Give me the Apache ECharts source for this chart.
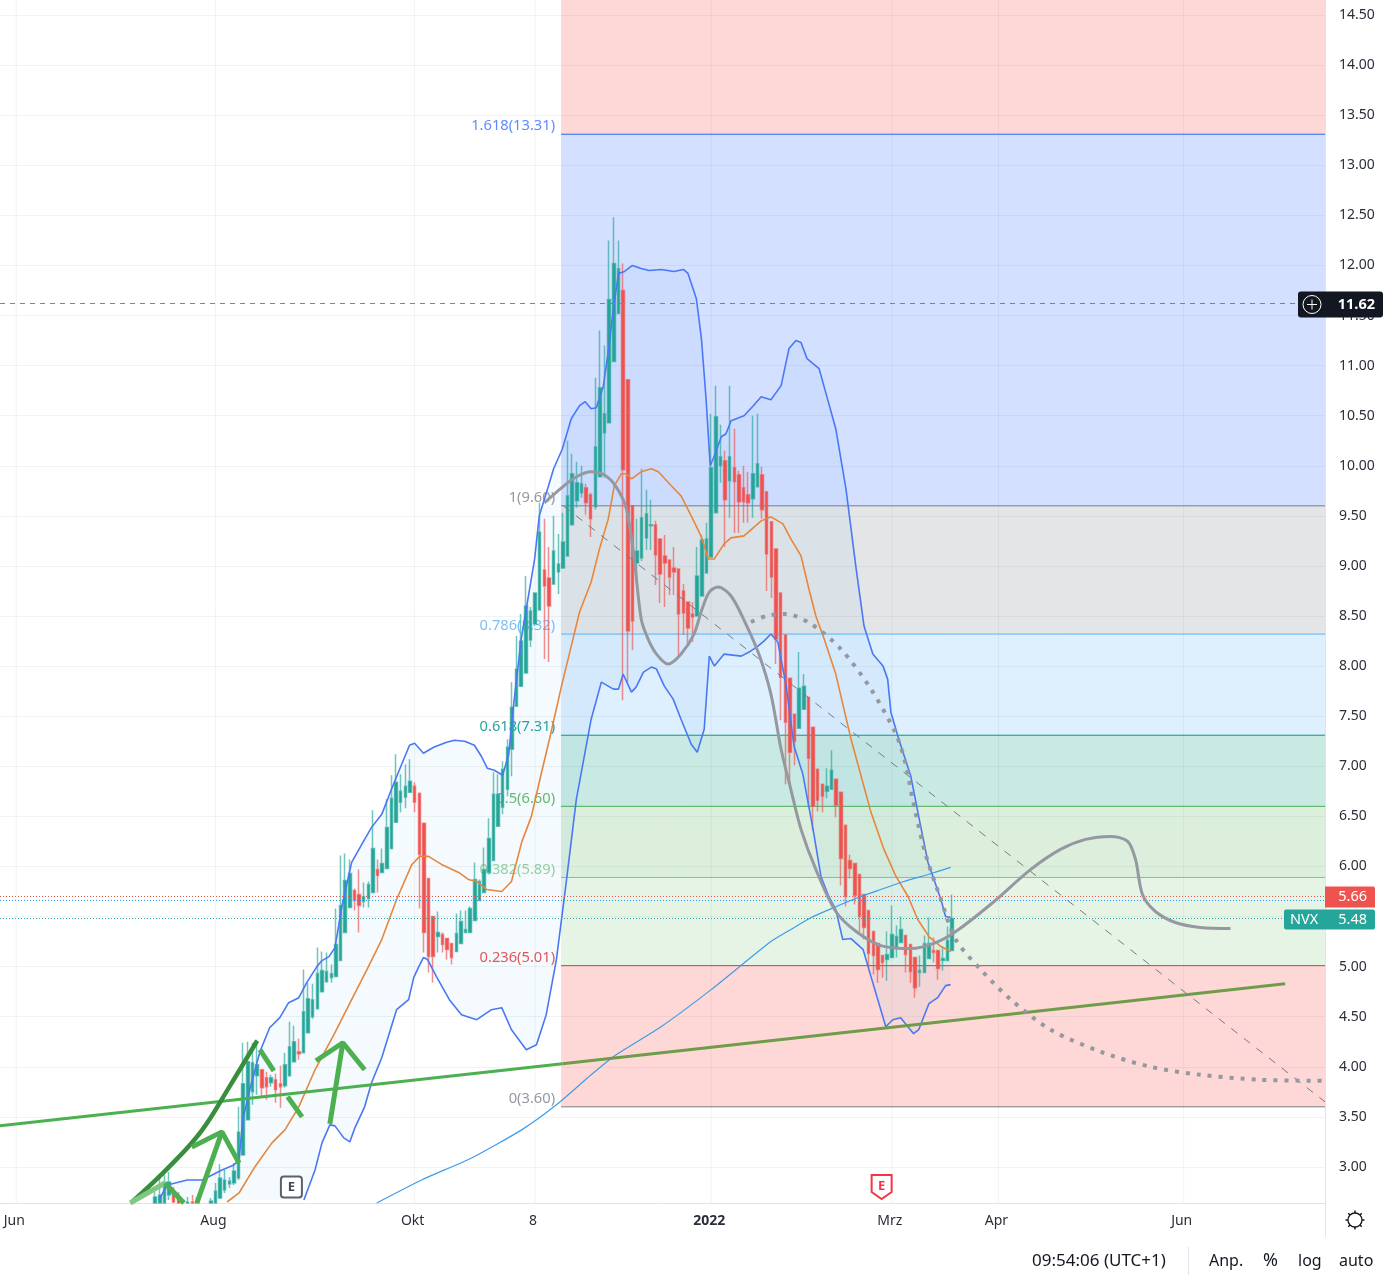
<!DOCTYPE html>
<html>
<head>
<meta charset="utf-8">
<title>NVX</title>
<script src="https://cdn.jsdelivr.net/npm/echarts@6/dist/echarts.min.js"></script>
<style>
  html, body { margin: 0; padding: 0; background: #fff; }
  #chart { width: 1387px; height: 1285px; }
</style>
</head>
<body>
<div id="chart"></div>
<script>
const font = '"Noto Sans", sans-serif';

const slotCount = 286;
const firstBar = 33;
const monthTicks = {3: 'Jun', 46: 'Aug', 89: 'Okt', 115: '8', 153: '2022', 192: 'Mrz', 215: 'Apr', 255: 'Jun'};
const priceTicks = ['3.00','3.50','4.00','4.50','5.00','5.50','6.00','6.50','7.00','7.50','8.00','8.50','9.00','9.50','10.00','10.50','11.00','11.50','12.00','12.50','13.00','13.50','14.00','14.50'];

// open, close, low, high ('-' = bar lies under the visible range)
const ohlc = [
  [2.64,2.70,2.64,2.75],[2.64,2.72,2.64,2.90],[2.64,2.84,2.64,2.92],[2.72,2.85,2.67,2.95],[2.75,2.65,2.64,2.80],
  [2.70,2.64,2.64,2.75],'-',[2.64,2.65,2.64,2.70],[2.65,2.64,2.64,2.72],[2.65,2.64,2.64,2.70],
  '-','-',[2.64,2.66,2.64,2.69],[2.64,2.76,2.64,2.84],[2.69,2.89,2.68,3.03],
  [2.77,2.87,2.74,2.97],[2.83,2.86,2.79,2.90],[2.84,2.96,2.82,3.04],[2.89,3.35,2.87,3.60],[3.12,3.83,3.12,4.24],
  [3.47,4.05,3.47,4.25],[3.75,4.04,3.62,4.24],[3.91,4.02,3.72,4.27],[3.97,3.79,3.70,3.97],[3.89,3.80,3.67,3.95],
  [3.84,3.89,3.80,3.92],[3.87,3.77,3.64,3.93],[3.83,3.80,3.59,4.01],[3.81,4.02,3.79,4.14],[3.91,4.20,3.90,4.45],
  [4.05,4.25,4.05,4.41],[4.15,4.13,4.07,4.28],[4.14,4.55,4.14,4.97],[4.34,4.68,4.34,4.84],[4.50,4.67,4.48,4.83],
  [4.58,4.93,4.58,5.19],[4.75,4.96,4.75,5.15],[4.85,4.95,4.84,5.14],[4.89,4.93,4.84,5.02],[4.90,5.22,4.90,5.58],
  [5.06,5.61,5.06,6.11],[5.34,5.86,5.34,6.13],[5.59,5.93,5.59,6.07],[5.76,5.66,5.56,5.78],[5.72,5.61,5.34,5.97],
  [5.65,5.70,5.59,5.84],[5.68,5.82,5.59,5.85],[5.74,6.18,5.74,6.56],[5.97,5.91,5.74,6.07],[5.94,6.03,5.94,6.18],
  [5.98,6.39,5.98,6.67],[6.18,6.68,6.17,6.91],[6.44,6.84,6.44,7.12],[6.64,6.75,6.54,6.92],[6.69,6.80,6.58,7.02],
  [6.74,6.85,6.74,7.07],[6.80,6.64,6.54,6.84],[6.73,6.12,5.58,6.73],[6.43,5.34,5.14,6.43],[5.88,5.10,4.94,5.88],
  [5.50,5.10,4.84,5.50],[5.30,5.34,5.14,5.55],[5.32,5.22,5.14,5.34],[5.28,5.17,5.07,5.28],[5.23,5.09,5.02,5.23],
  [5.15,5.33,5.15,5.53],[5.23,5.45,5.23,5.56],[5.34,5.37,5.34,5.56],[5.34,5.58,5.34,5.60],[5.46,5.87,5.46,6.04],
  [5.66,5.85,5.66,5.87],[5.74,5.97,5.74,6.19],[5.94,6.28,5.92,6.48],[6.06,6.72,6.06,6.94],[6.40,6.72,6.40,6.92],
  [6.59,6.97,6.52,7.05],[6.77,7.19,6.70,7.27],[7.17,7.59,6.90,7.84],[7.60,7.97,7.60,8.30],[7.80,8.25,7.80,8.52],
  [7.93,8.60,7.93,8.90],[8.26,8.55,8.19,8.59],[8.42,8.73,8.40,8.73],[8.56,9.34,8.56,9.63],[8.96,8.80,8.07,9.47],
  [8.88,8.60,8.04,9.19],[8.82,9.15,8.81,9.50],[8.94,9.02,8.72,9.32],[8.98,9.24,8.97,9.53],[9.10,9.70,9.10,10.25],
  [9.41,9.92,9.40,10.12],[9.65,9.83,9.58,10.04],[9.73,9.82,9.68,10.00],[9.78,9.63,9.51,9.82],[9.71,9.47,9.29,9.73],
  [9.59,10.19,9.56,10.88],[9.89,10.78,9.89,11.35],[10.33,10.52,9.88,11.20],[10.43,11.66,10.43,12.25],[11.04,12.02,11.04,12.48],
  [11.52,11.97,11.52,12.25],[11.75,9.96,7.66,12.02],[10.86,8.35,7.84,10.86],[9.60,8.45,8.16,9.60],[9.03,9.15,8.83,9.47],
  [9.08,9.48,9.05,9.97],[9.28,9.52,9.16,9.76],[9.40,9.41,9.16,9.66],[9.41,9.11,8.81,9.45],[9.27,8.92,8.63,9.27],
  [9.10,9.03,8.59,9.31],[9.06,8.89,8.71,9.06],[8.98,8.94,8.71,9.19],[8.97,8.52,8.08,8.97],[8.75,8.53,8.31,8.82],
  [8.64,8.38,8.21,8.64],[8.52,8.49,8.24,8.64],[8.50,8.90,8.50,9.19],[8.70,9.26,8.70,9.31],[8.93,9.27,8.93,9.43],
  [9.09,9.98,9.09,10.52],[9.53,10.49,9.53,10.80],[10.00,10.09,9.83,10.41],[10.05,9.66,9.19,10.15],[9.85,10.09,9.48,10.80],
  [9.98,9.84,9.33,10.37],[9.91,9.64,9.33,9.95],[9.78,9.64,9.43,10.00],[9.71,9.63,9.43,9.94],[9.67,9.92,9.48,10.50],
  [9.79,10.02,9.79,10.52],[9.91,9.56,9.47,9.99],[9.74,9.12,8.75,9.74],[9.44,8.89,8.68,9.44],[9.17,8.27,8.02,9.17],
  [8.73,7.89,7.46,8.73],[8.31,7.44,6.82,8.31],[7.88,7.14,6.81,7.88],[7.52,7.25,7.01,7.52],[7.38,7.78,7.38,8.14],
  [7.57,7.80,7.57,7.92],[7.69,7.08,6.59,7.69],[7.39,6.60,6.36,7.39],[6.97,6.66,6.55,6.97],[6.82,6.70,6.54,6.82],
  [6.75,6.80,6.68,6.98],[6.77,6.96,6.77,7.16],[6.87,6.61,6.49,6.87],[6.74,6.08,5.81,6.74],[6.41,5.70,5.60,6.41],
  [6.06,5.98,5.88,6.12],[6.03,5.71,5.62,6.03],[5.92,5.50,5.34,5.92],[5.72,5.39,5.27,5.72],[5.56,5.13,4.99,5.56],
  [5.35,5.11,4.92,5.35],[5.23,4.97,4.84,5.23],[5.11,5.04,4.89,5.11],[5.07,5.12,4.86,5.35],[5.09,5.32,5.09,5.61],
  [5.19,5.30,5.09,5.41],[5.24,5.37,5.24,5.50],[5.31,5.12,4.94,5.31],[5.22,4.95,4.84,5.22],[5.09,4.79,4.69,5.09],
  [4.94,4.96,4.80,5.11],[4.94,5.23,4.94,5.31],[5.08,5.23,5.08,5.49],[5.16,5.14,5.04,5.29],[5.16,4.98,4.87,5.16],
  [5.06,5.08,4.96,5.20],[5.06,5.26,5.06,5.40],[5.16,5.48,5.16,5.72]
];

// bar number, price
const upperBand = [[33.8,2.67],[35.6,2.82],[39.9,2.87],[43.1,2.87],[45.3,2.92],[47.4,2.97],[50,3.02],[51.1,3.07],[51.9,3.47],[53.4,3.77],[55.6,4.15],[57.7,4.39],[59.9,4.49],[61.8,4.64],[64,4.69],[65.7,4.84],[67.9,5.00],[69,5.06],[70.5,5.10],[71.8,5.19],[73.3,5.60],[75.4,6.04],[78.2,6.27],[79.7,6.39],[81.9,6.52],[84,6.77],[86.2,7.02],[87.9,7.21],[89,7.23],[90.9,7.13],[93.1,7.19],[95.9,7.24],[97.6,7.26],[99.8,7.25],[101.9,7.21],[103.4,7.10],[104.7,6.98],[106.2,6.96],[108,6.91],[109.3,7.12],[110.5,7.67],[112,8.27],[114.9,9.07],[115.9,9.50],[117.9,9.80],[119,9.97],[120.9,10.17],[122.8,10.47],[124.6,10.60],[125.8,10.64],[127.1,10.57],[128.2,10.58],[129.7,10.79],[130.8,11.14],[131.9,11.57],[133,11.92],[134.3,11.94],[136,12.00],[137.9,11.97],[139.6,11.95],[142.2,11.96],[145,11.94],[147,11.96],[148,11.92],[149.8,11.67],[150.9,11.27],[151.9,10.67],[152.8,10.00],[153.7,10.10],[155.2,10.29],[156.2,10.32],[157.3,10.45],[160.1,10.50],[162.1,10.60],[163.8,10.69],[165.9,10.66],[168.1,10.80],[169.8,11.17],[171.3,11.25],[172.4,11.23],[173.7,11.07],[176.3,10.97],[177.8,10.72],[179.9,10.37],[182.1,9.77],[184.3,8.97],[186,8.40],[187.9,8.12],[190.1,8.00],[191.1,7.87],[191.8,7.54],[193.5,7.27],[196.1,6.90],[197.8,6.50],[199.8,6.04],[201.1,5.87],[202.6,5.67],[203.6,5.50],[204.7,5.49]];
const lowerBand = [[65.1,2.67],[67.5,2.97],[69,3.24],[70.7,3.42],[71.8,3.41],[73.7,3.29],[75,3.25],[76.1,3.39],[78.2,3.60],[79.7,3.84],[81.9,4.09],[85.1,4.57],[87.7,4.67],[88.8,4.89],[89.9,5.00],[90.9,5.09],[91.8,5.07],[93.7,4.90],[96.5,4.67],[99.1,4.52],[102.4,4.47],[105.6,4.57],[107.8,4.59],[109.9,4.37],[113.1,4.17],[115.3,4.22],[117.4,4.52],[119.6,5.07],[121.8,5.87],[123.9,6.67],[127.1,7.47],[129.3,7.84],[131.9,7.77],[133,7.77],[134,7.92],[135.8,7.74],[136.8,7.79],[138.4,7.94],[140.1,7.99],[141.2,7.97],[142.9,7.80],[144.8,7.67],[146.5,7.47],[148.7,7.22],[150,7.14],[151.5,7.37],[152.6,8.10],[153.7,8.00],[155.8,8.12],[159.5,8.10],[161.2,8.14],[163.1,8.20],[164.4,8.25],[165.9,8.32],[167.4,8.24],[169.2,7.80],[170.9,7.20],[172.8,6.92],[175,6.37],[176.7,5.90],[178.4,5.70],[179.9,5.57],[181.4,5.27],[183.2,5.28],[185.8,5.17],[187.5,4.90],[190.7,4.40],[192.2,4.47],[193.9,4.49],[196.7,4.33],[197.8,4.37],[200,4.63],[201.9,4.69],[203.6,4.81],[204.7,4.82]];
const basisBand = [[48.5,2.65],[51.1,2.74],[54.5,3.00],[58.2,3.24],[61,3.37],[64,3.60],[67.5,3.97],[71.8,4.34],[75.4,4.67],[78.7,4.97],[81.9,5.27],[85.1,5.67],[88.4,6.02],[90.1,6.10],[92,6.10],[94.8,6.02],[98.5,5.94],[100.6,5.87],[102.4,5.85],[104.5,5.77],[107.8,5.75],[109.9,5.85],[112.1,6.24],[114.2,6.50],[116.4,6.94],[118.1,7.27],[120.7,7.80],[122.8,8.20],[124.6,8.54],[127.1,8.84],[128.9,9.17],[130.8,9.47],[132.1,9.80],[133.6,9.92],[134.7,9.92],[135.8,9.87],[137.9,9.94],[140.1,9.97],[141.6,9.94],[144.4,9.80],[146.5,9.70],[148.7,9.50],[150.9,9.29],[152.4,9.07],[153.7,9.07],[155.8,9.22],[157.3,9.28],[160.1,9.30],[163.8,9.45],[165.9,9.49],[168.5,9.42],[170.2,9.27],[172.4,9.10],[174.1,8.77],[175.6,8.50],[177.4,8.27],[179.9,7.92],[183.2,7.27],[187.5,6.54],[190.3,6.17],[192.9,5.90],[195.5,5.70],[197.6,5.47],[200,5.30],[202.6,5.20],[204.7,5.15]];
const ma200 = [[80.8,2.64],[90.5,2.87],[101.3,3.09],[112.1,3.37],[119.6,3.62],[127.1,3.92],[132.5,4.12],[142.2,4.40],[153,4.77],[165.9,5.25],[170.2,5.37],[174.6,5.49],[179.5,5.59],[184.7,5.69],[189.6,5.77],[194.6,5.85],[199.8,5.92],[204.7,5.99]];

const fibLevels = [1.618, 1, 0.786, 0.618, 0.5, 0.382, 0.236, 0];
const fibPrices = [13.31, 9.60, 8.32, 7.31, 6.60, 5.89, 5.01, 3.60];
const fibStartBar = 120.6;

// hand drawn lines
const cupCurve = [[117,9.63],[120.7,9.78],[123.9,9.89],[127.1,9.94],[129.9,9.91],[132.5,9.79],[134.7,9.57],[136.4,9.07],[137.9,8.47],[139.4,8.27],[141.2,8.12],[143.7,8.02],[146.5,8.12],[149.3,8.32],[150.9,8.55],[152.6,8.74],[154.5,8.79],[157.3,8.70],[160.5,8.42],[163.3,8.12],[165.9,7.72],[168.1,7.17],[170.2,6.77],[172.4,6.37],[175.6,5.97],[179.9,5.55],[184.3,5.35],[189.6,5.21],[196.1,5.18],[201.5,5.24],[205.8,5.35],[213.3,5.62],[222,5.97],[228.4,6.17],[233.8,6.27],[239.2,6.30],[242.9,6.25],[244.6,6.07],[246.1,5.72],[248.9,5.55],[253.2,5.44],[258.6,5.39],[265.1,5.38]];
const dottedCurve = [[161.6,8.44],[164.9,8.50],[169.2,8.52],[174.6,8.42],[181,8.17],[187.5,7.77],[192.9,7.32],[195,7.02],[196.5,6.67],[199.3,6.12],[202.6,5.67],[205.8,5.27],[211.2,4.97],[217.7,4.67],[226.3,4.37],[237.1,4.15],[247.8,4.00],[258.6,3.92],[271.5,3.87],[285.5,3.86]];
const dashedDiagonal = [[121.1,9.60],[285.5,3.65]];
const trendLeft = [[-0.5,3.41],[120.9,4.03]];
const trendRight = [[120.9,4.03],[276.9,4.83]];
const darkCurve = [[28,2.65],[36,3.00],[43,3.36],[49,3.80],[55,4.26]];
const paleStroke = [[27.6,2.64],[35.1,2.84]];
const greenStrokes = [
  [[35.1,2.84],[39.2,2.64]],
  [[42,2.64],[47.4,3.35]],
  [[40.9,3.20],[47.4,3.35],[51.1,3.04]],
  [[70.7,3.43],[73.5,4.24]],
  [[67.7,4.06],[73.5,4.24],[78.2,3.97]],
  [[55.6,4.17],[58.6,3.96]],
  [[61.6,3.70],[64.7,3.50]]
];

const crossPrice = 11.62;
const lastClose = 5.48;
const prevPrice = 5.66;
const redLevel = 5.70;
const blueLevel = 5.66;
const earnings = [[62.4, 2.80], [189.8, 2.80]];

const categories = [];
for (let i = 0; i < slotCount; i++) categories.push(monthTicks[i] || '');

const fibColors = ['#2962ff', '#787b86', '#64b5f6', '#089981', '#4caf50', '#81c784', '#f23645', '#787b86'];
const fibFills = ['rgba(41,98,255,.2)', 'rgba(120,123,134,.2)', 'rgba(33,150,243,.15)', 'rgba(8,153,129,.22)', 'rgba(76,175,80,.2)', 'rgba(129,199,132,.2)', 'rgba(244,60,50,.2)'];
const fibLabelColors = ['#5f8bff', '#9598a1', '#7cc0f7', '#26a69a', '#66bb6a', '#9ad29d', '#ef5350', '#9598a1'];

function lineSeries(name, data, color, width, extra) {
  return Object.assign({
    name: name,
    type: 'line',
    xAxisIndex: 1,
    data: data,
    showSymbol: false,
    symbol: 'none',
    silent: true,
    z: 5,
    lineStyle: { color: color, width: width }
  }, extra || {});
}

// zones and labels of the fib tool
function renderFib(params, api) {
  const i = params.dataIndex;
  const price = api.value(0);
  const y = api.coord([fibStartBar, price])[1];
  const left = api.coord([fibStartBar, price])[0];
  const right = api.coord([285.5, price])[0];
  const top = i === 0 ? api.coord([fibStartBar, 14.65])[1] : api.coord([fibStartBar, fibPrices[i - 1]])[1];
  const children = [];
  // the zone above this level
  const fill = i === 0 ? 'rgba(244,60,50,.2)' : fibFills[i - 1];
  children.push({ type: 'rect', shape: { x: left, y: top, width: right - left, height: y - top }, style: { fill: fill } });
  children.push({ type: 'line', shape: { x1: left, y1: y, x2: right, y2: y }, style: { stroke: fibColors[i], lineWidth: 1 } });
  children.push({
    type: 'text',
    x: left - 6,
    y: y - 8,
    style: { text: fibLevels[i] + '(' + fibPrices[i].toFixed(2) + ')', fill: fibLabelColors[i], font: '14.7px ' + font, align: 'right', verticalAlign: 'middle' }
  });
  return { type: 'group', children: children };
}

function renderBandFill(params, api) {
  const pts = upperBand.concat(lowerBand.slice().reverse()).map(function (p) { return api.coord(p); });
  return { type: 'polygon', shape: { points: pts }, style: { fill: 'rgba(33,150,243,.05)' } };
}

// vertical grid lines at the month labels
function renderMonthLine(params, api) {
  const top = api.coord([api.value(0), 14.65]);
  const bottom = api.coord([api.value(0), 2.64]);
  return { type: 'line', shape: { x1: top[0], y1: top[1], x2: bottom[0], y2: bottom[1] }, style: { stroke: 'rgba(42,46,57,.06)', lineWidth: 1 } };
}

function renderEarnings(params, api) {
  const c = api.coord([api.value(0), api.value(1)]);
  const past = params.dataIndex === 0;
  const color = past ? '#5d606b' : '#f23645';
  const shape = past
    ? { type: 'rect', shape: { x: c[0] - 10.5, y: c[1] - 10.5, width: 21, height: 21, r: 3 } }
    : { type: 'polygon', shape: { points: [[c[0] - 10, c[1] - 12], [c[0] + 10, c[1] - 12], [c[0] + 10, c[1] + 5], [c[0], c[1] + 12], [c[0] - 10, c[1] + 5]] } };
  shape.style = { fill: '#fff', stroke: color, lineWidth: 2 };
  return {
    type: 'group',
    children: [shape, { type: 'text', x: c[0], y: c[1] + (past ? 0 : -1), style: { text: 'E', fill: past ? '#434651' : '#f23645', font: 'bold 13px ' + font, align: 'center', verticalAlign: 'middle' } }]
  };
}

function renderBadge(params, api) {
  let y = api.coord([0, api.value(0)])[1];
  const kids = [];
  const label = function (text, x, align, bold) {
    return { type: 'text', x: x, y: y, style: { text: text, fill: '#fff', font: (bold ? 'bold ' : '') + '14.5px ' + font, align: align, verticalAlign: 'middle' } };
  };
  if (params.dataIndex === 0) {
    y += 1;
    kids.push({ type: 'rect', shape: { x: 1298, y: y - 13, width: 85, height: 26, r: 3 }, style: { fill: '#131722' } });
    kids.push({ type: 'circle', shape: { cx: 1312, cy: y, r: 9 }, style: { fill: 'none', stroke: '#fff', lineWidth: 1 } });
    kids.push({ type: 'line', shape: { x1: 1307, y1: y, x2: 1317, y2: y }, style: { stroke: '#fff', lineWidth: 1 } });
    kids.push({ type: 'line', shape: { x1: 1312, y1: y - 5, x2: 1312, y2: y + 5 }, style: { stroke: '#fff', lineWidth: 1 } });
    kids.push(label(api.value(0).toFixed(2), 1375, 'right', true));
  } else if (params.dataIndex === 1) {
    // pushed up by the last price badge below it
    y -= 3.5;
    kids.push({ type: 'rect', shape: { x: 1325, y: y - 10.5, width: 50, height: 21, r: [0, 2, 0, 0] }, style: { fill: '#ef5350' } });
    kids.push(label(api.value(0).toFixed(2), 1367, 'right'));
  } else {
    y += 1;
    kids.push({ type: 'rect', shape: { x: 1284, y: y - 10, width: 91, height: 20, r: 2 }, style: { fill: '#26a69a' } });
    kids.push(label('NVX', 1290, 'left'));
    kids.push(label(api.value(0).toFixed(2), 1367, 'right'));
  }
  return { type: 'group', children: kids };
}

const series = [
  {
    name: 'months',
    type: 'custom',
    xAxisIndex: 1,
    renderItem: renderMonthLine,
    data: Object.keys(monthTicks).map(function (k) { return [Number(k)]; }),
    encode: { x: 0 },
    silent: true,
    z: 0
  },
  {
    name: 'fib',
    type: 'custom',
    xAxisIndex: 1,
    renderItem: renderFib,
    data: fibPrices.map(function (p) { return [p]; }),
    encode: { y: 0 },
    silent: true,
    z: 1
  },
  {
    name: 'bandFill',
    type: 'custom',
    xAxisIndex: 1,
    renderItem: renderBandFill,
    data: [[0, 0]],
    silent: true,
    z: 2
  },
  {
    name: 'NVX',
    type: 'candlestick',
    xAxisIndex: 0,
    data: new Array(firstBar).fill('-').concat(ohlc),
    barWidth: 3,
    clip: true,
    silent: true,
    z: 3,
    itemStyle: {
      color: '#26a69a',
      color0: '#ef5350',
      borderColor: 'rgba(38,166,154,.65)',
      borderColor0: 'rgba(239,83,80,.65)',
      borderWidth: 1.5
    }
  },
  lineSeries('upper', upperBand, '#4a78f5', 1.6, { z: 4 }),
  lineSeries('lower', lowerBand, '#4a78f5', 1.6, { z: 4 }),
  lineSeries('basis', basisBand, '#e8863c', 1.6, { z: 4 }),
  lineSeries('ma200', ma200, '#3f9be8', 1.2, { z: 4, smooth: 0.2 }),
  lineSeries('cross', [[-0.5, crossPrice], [285.5, crossPrice]], '#758696', 1, { lineStyle: { color: '#758696', width: 1, type: [5, 5] } }),
  lineSeries('prev', [[-0.5, redLevel], [285.5, redLevel]], '#ef5350', 1, { lineStyle: { color: '#ef5350', width: 1, type: [1, 2] } }),
  lineSeries('blue', [[-0.5, blueLevel], [285.5, blueLevel]], '#2196f3', 1, { lineStyle: { color: '#2196f3', width: 1, type: [1, 2] } }),
  lineSeries('last', [[-0.5, lastClose], [285.5, lastClose]], '#26a69a', 1, { lineStyle: { color: '#26a69a', width: 1, type: [1, 2] } }),
  lineSeries('diagonal', dashedDiagonal, '#787b86', 1, { lineStyle: { color: '#787b86', width: 1, type: [8, 8] } }),
  lineSeries('trendLeft', trendLeft, '#4caf50', 3),
  lineSeries('trendRight', trendRight, '#6f9c4a', 3),
  lineSeries('cup', cupCurve, '#9598a1', 3, { smooth: 0.3 }),
  lineSeries('dotted', dottedCurve, '#9598a1', 4, { smooth: 0.3, lineStyle: { color: '#9598a1', width: 4, type: [4, 7] } }),
  lineSeries('darkCurve', darkCurve, '#388e3c', 4.5, { smooth: 0.4 }),
  lineSeries('pale', paleStroke, '#81c784', 5)
];
greenStrokes.forEach(function (s, i) {
  series.push(lineSeries('stroke' + i, s, '#4caf50', 5));
});
series.push({
  name: 'earnings',
  type: 'custom',
  xAxisIndex: 1,
  renderItem: renderEarnings,
  data: earnings,
  silent: true,
  z: 6
});
series.push({
  name: 'badges',
  type: 'custom',
  xAxisIndex: 1,
  renderItem: renderBadge,
  data: [[crossPrice], [prevPrice], [lastClose]],
  encode: { y: 0 },
  silent: true,
  z: 20
});

const gridLine = { color: 'rgba(42,46,57,.06)', width: 1 };
const footText = function (text, x, y, size) {
  return { type: 'text', x: x, y: y, style: { text: text, fill: '#131722', font: (size || 16) + 'px ' + font, verticalAlign: 'middle' } };
};
const sunRays = [0, 45, 90, 135, 180, 225, 270, 315].map(function (a) {
  const r = a * Math.PI / 180;
  return { type: 'line', shape: { x1: 1355 + 7 * Math.cos(r), y1: 1220 + 7 * Math.sin(r), x2: 1355 + 9.5 * Math.cos(r), y2: 1220 + 9.5 * Math.sin(r) }, style: { stroke: '#131722', lineWidth: 1.5 } };
});

const chart = echarts.init(document.getElementById('chart'), null, { renderer: 'canvas' });
chart.setOption({
  animation: false,
  backgroundColor: '#fff',
  textStyle: { fontFamily: font },
  grid: { left: -2.4, top: 0, width: 1327.4, height: 1203, containLabel: false },
  xAxis: [
    {
      type: 'category',
      data: categories,
      axisLine: { lineStyle: { color: '#e0e3eb' } },
      axisTick: { show: false, alignWithLabel: true },
      axisLabel: {
        interval: function (i, v) { return v !== ''; },
        margin: 11,
        padding: [0, 4, 0, 0],
        fontSize: 14,
        color: '#2a2e39',
        fontFamily: font,
        formatter: function (v) { return v === '2022' ? '{b|2022}' : v; },
        rich: { b: { fontWeight: 'bold', fontSize: 14, color: '#2a2e39', fontFamily: font } }
      },
      splitLine: { show: false }
    },
    { type: 'value', min: -0.5, max: 285.5, show: false, splitLine: { show: false } }
  ],
  yAxis: {
    type: 'value',
    position: 'right',
    min: 2.64,
    max: 14.65,
    axisLine: { show: false },
    axisTick: { show: false, customValues: priceTicks.map(Number) },
    axisLabel: {
      customValues: priceTicks.map(Number),
      formatter: function (v) { return Number(v).toFixed(2); },
      margin: 14,
      padding: [4, 0, 0, 0],
      fontSize: 14,
      color: '#2a2e39',
      fontFamily: font
    },
    splitLine: { show: true, lineStyle: gridLine }
  },
  series: series,
  graphic: [
    { type: 'line', shape: { x1: 1325.5, y1: 0, x2: 1325.5, y2: 1237 }, style: { stroke: '#e0e3eb' } },
    { type: 'line', shape: { x1: 1188.5, y1: 1247, x2: 1188.5, y2: 1275 }, style: { stroke: '#e0e3eb' } },
    footText('09:54:06 (UTC+1)', 1032, 1261, 17),
    footText('Anp.', 1209, 1261),
    footText('%', 1263, 1261, 18),
    footText('log', 1298, 1261),
    footText('auto', 1339, 1261),
    { type: 'circle', shape: { cx: 1355, cy: 1220, r: 7 }, style: { fill: 'none', stroke: '#131722', lineWidth: 1.3 } }
  ].concat(sunRays)
});
</script>
</body>
</html>
